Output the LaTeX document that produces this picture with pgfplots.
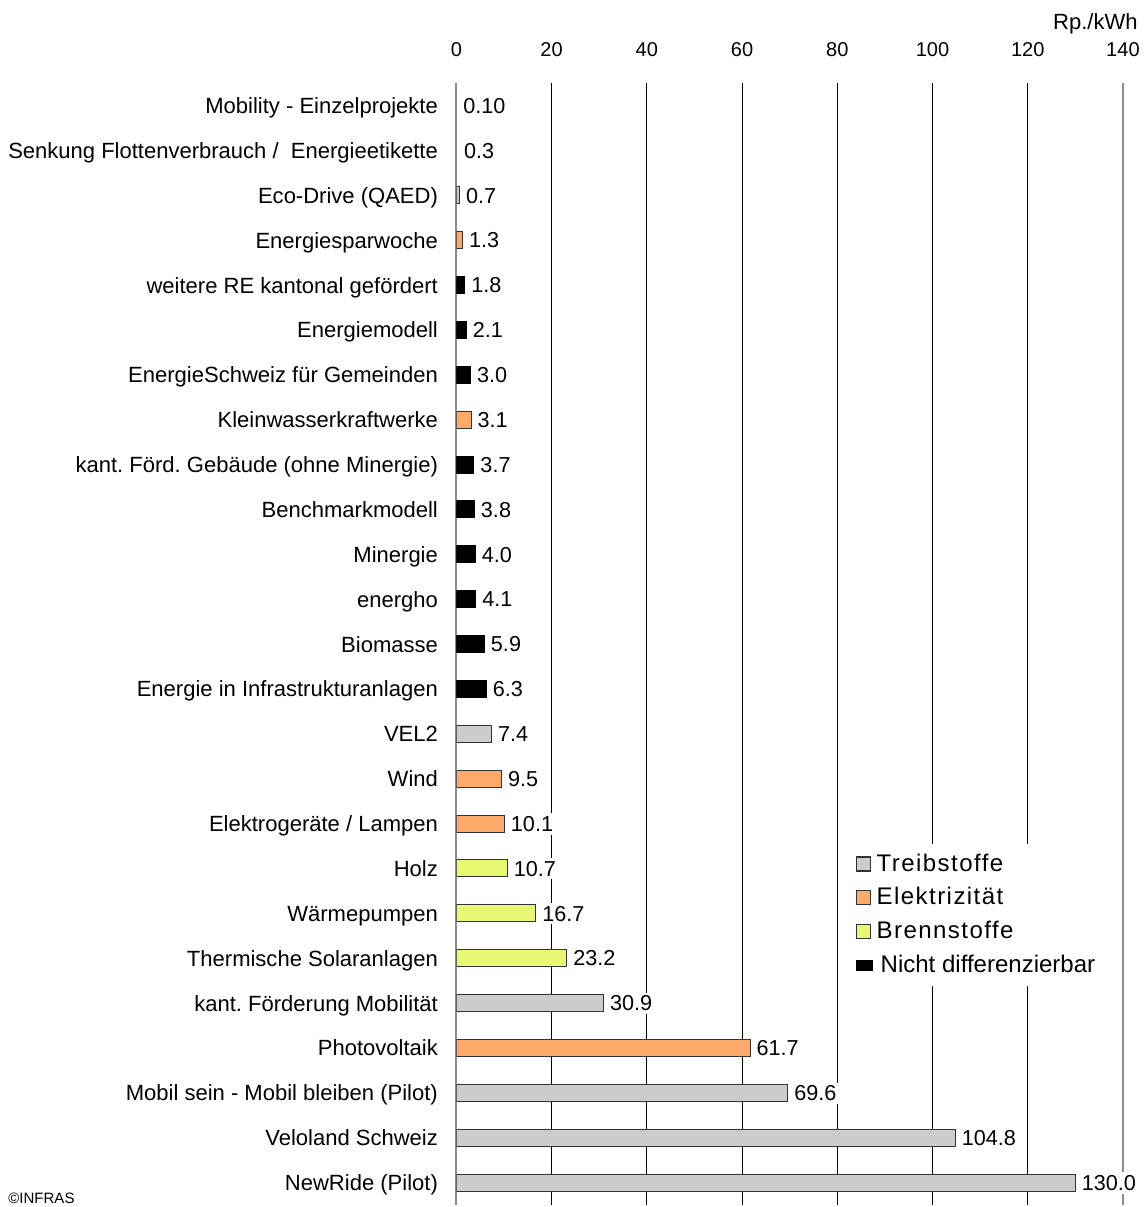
\documentclass[border=0pt]{standalone}
\usepackage{pgfplots}
\pgfplotsset{compat=1.18}
\usepackage{fontspec}
\setmainfont{Liberation Sans}
\definecolor{treib}{HTML}{CCCCCC}
\definecolor{elek}{HTML}{FCA96A}
\definecolor{brenn}{HTML}{E8F872}
\definecolor{barline}{HTML}{333333}
\newcommand{\wide}{\addfontfeature{LetterSpace=6}}
\frenchspacing
\begin{document}
\begin{tikzpicture}
\begin{axis}[
  width=333pt, height=560.5pt, scale only axis,
  xmin=0, xmax=140, ymin=-0.5, ymax=24.5,
  y dir=reverse,
  xbar, bar width=8.5pt, bar shift=0pt,
  axis line style={draw=none},
  xtick={20,40,...,120},
  extra x ticks={0,140},
  extra x tick style={grid style={gray!90, line width=0.9pt}},
  xmajorgrids, grid style={black, line width=0.5pt},
  xticklabel pos=right,
  major tick length=0pt,
  /pgf/number format/assume math mode=true,
  xticklabel style={font=\fontsize{10}{12}\selectfont, yshift=9.5pt},
  ytick={0,...,24},
  yticklabels={Mobility - Einzelprojekte, Senkung Flottenverbrauch /\ \ Energieetikette, Eco-Drive (QAED), Energiesparwoche, weitere RE kantonal gefördert, Energiemodell, EnergieSchweiz für Gemeinden, Kleinwasserkraftwerke, kant. Förd. Gebäude (ohne Minergie), Benchmarkmodell\ , Minergie, energho, Biomasse, Energie in Infrastrukturanlagen, VEL2, Wind, Elektrogeräte / Lampen, Holz, Wärmepumpen, Thermische Solaranlagen, kant. Förderung Mobilität, Photovoltaik, Mobil sein - Mobil bleiben (Pilot), Veloland Schweiz, NewRide (Pilot)},
  yticklabel style={font=\fontsize{11}{13}\selectfont, anchor=base east, xshift=-5.7pt, yshift=-4pt},
  point meta=explicit symbolic,
  nodes near coords,
  every node near coord/.append style={font=\fontsize{10.8}{13}\selectfont, anchor=base west, fill=white, inner xsep=1pt, inner ysep=1.5pt, xshift=2pt, yshift=-3.9pt, text=black},
  legend style={at={(axis cs:82.5,16.44)}, anchor=north west, draw=none, fill=white,
    font=\fontsize{12}{14}\selectfont, row sep=2.7pt, inner sep=3pt},
  legend cell align=left,
]
\addplot[fill=treib, draw=barline, line width=0.5pt,
  legend image code/.code={\draw[fill=treib, draw=barline, line width=0.6pt] (0pt,-3.5pt) rectangle (7pt,3.5pt);}]
  coordinates {(0.7,2) [0.7] (7.4,14) [7.4] (30.9,20) [30.9] (69.6,22) [69.6] (104.8,23) [104.8] (130.0,24) [130.0]};
\addlegendentry{\wide Treibstoffe}
\addplot[fill=elek, draw=barline, line width=0.5pt,
  legend image code/.code={\draw[fill=elek, draw=barline, line width=0.6pt] (0pt,-3.5pt) rectangle (7pt,3.5pt);}]
  coordinates {(1.3,3) [1.3] (3.1,7) [3.1] (9.5,15) [9.5] (10.1,16) [10.1] (61.7,21) [61.7]};
\addlegendentry{\wide Elektrizität}
\addplot[fill=brenn, draw=barline, line width=0.5pt,
  legend image code/.code={\draw[fill=brenn, draw=barline, line width=0.6pt] (0pt,-3.5pt) rectangle (7pt,3.5pt);}]
  coordinates {(10.7,17) [10.7] (16.7,18) [16.7] (23.2,19) [23.2]};
\addlegendentry{\wide Brennstoffe}
\addplot[fill=black, draw=black, line width=0.5pt,
  legend image code/.code={\draw[fill=black, draw=black] (0pt,-2.5pt) rectangle (8pt,2.5pt);}]
  coordinates {(1.8,4) [1.8] (2.1,5) [2.1] (3.0,6) [3.0] (3.7,8) [3.7] (3.8,9) [3.8] (4.0,10) [4.0] (4.1,11) [4.1] (5.9,12) [5.9] (6.3,13) [6.3]};
\addlegendentry{\hspace{2pt}Nicht differenzierbar}
\addplot[draw=none, fill=none, forget plot]
  coordinates {(0.10,0) [0.10] (0.3,1) [0.3]};
\end{axis}
\path ([xshift=-228pt, yshift=41.5pt]current axis.north west) rectangle ([xshift=11pt, yshift=-1pt]current axis.south east);
\node[anchor=base east, inner sep=0pt, font=\fontsize{11}{13}\selectfont]
  at ([xshift=7.5pt, yshift=26.8pt]current axis.north east) {Rp./kWh};
\node[anchor=base west, inner sep=0pt, font=\fontsize{7.5}{9}\selectfont]
  at ([xshift=-224pt, yshift=0.5pt]current axis.south west) {©INFRAS};
\end{tikzpicture}
\end{document}
